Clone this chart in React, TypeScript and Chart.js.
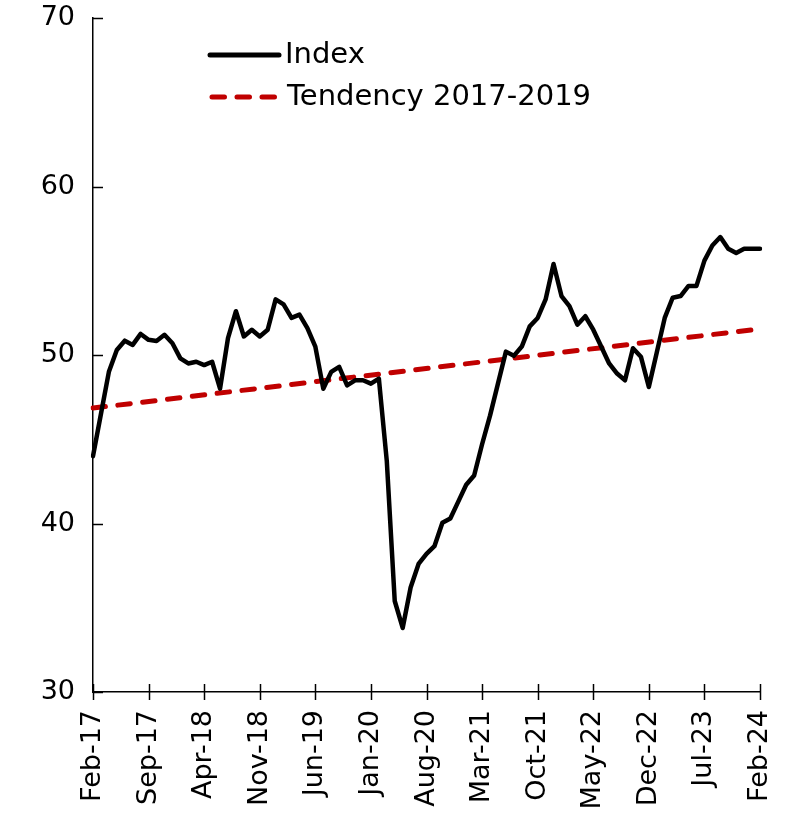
import React, { useEffect, useRef } from "react";
import { Chart, registerables } from "chart.js";
Chart.register(...registerables);

const MONTH_NAMES = ["Jan", "Feb", "Mar", "Apr", "May", "Jun", "Jul", "Aug", "Sep", "Oct", "Nov", "Dec"];
// Monthly categories Feb-17 .. Feb-24
const CATEGORIES: string[] = [];
for (let k = 0; k < 85; k++) {
  const m = (1 + k) % 12;
  const yr = 17 + Math.floor((1 + k) / 12);
  CATEGORIES.push(`${MONTH_NAMES[m]}-${yr}`);
}

const TICK_LABELS = ["Feb-17", "Sep-17", "Apr-18", "Nov-18", "Jun-19", "Jan-20", "Aug-20", "Mar-21", "Oct-21", "May-22", "Dec-22", "Jul-23", "Feb-24"];
const Y_TICKS = [30, 40, 50, 60, 70];

const INDEX_VALUES = [
  44.0, 46.5, 49.0, 50.3, 50.85, 50.6, 51.25, 50.9, 50.83, 51.2,
  50.7, 49.8, 49.5, 49.6, 49.4, 49.6, 48.0, 51.0, 52.6, 51.1,
  51.5, 51.1, 51.5, 53.3, 53.0, 52.2, 52.4, 51.6, 50.5, 48.0,
  49.0, 49.3, 48.2, 48.5, 48.5, 48.3, 48.6, 43.7, 35.4, 33.8,
  36.2, 37.6, 38.2, 38.65, 40.05, 40.3, 41.3, 42.3, 42.85, 44.7,
  46.4, 48.3, 50.2, 49.95, 50.5, 51.7, 52.2, 53.3, 55.4, 53.5,
  52.9, 51.8, 52.3, 51.5, 50.5, 49.5, 48.9, 48.5, 50.4, 49.9,
  48.1, 50.15, 52.2, 53.4, 53.5, 54.1, 54.1, 55.6, 56.5, 57.0,
  56.3, 56.05, 56.3, 56.3, 56.3,
];

// Linear tendency: value at first and last month
const TREND_START = 46.85;
const TREND_END = 51.55;
const TREND_VALUES: (number | null)[] = CATEGORIES.map((_, i) =>
  i === 0 ? TREND_START : i === CATEGORIES.length - 1 ? TREND_END : null
);

const FONT = "'DejaVu Sans', sans-serif";

const axisTicksPlugin = {
  id: "axisTicks",
  afterDraw(chart: any) {
    const { ctx, scales, chartArea } = chart;
    ctx.save();
    ctx.strokeStyle = "#000";
    ctx.lineWidth = 1.5;
    Y_TICKS.forEach((v) => {
      const y = Math.round(scales.y.getPixelForValue(v)) + 0.5;
      ctx.beginPath();
      ctx.moveTo(chartArea.left, y);
      ctx.lineTo(chartArea.left + 10, y);
      ctx.stroke();
    });
    TICK_LABELS.forEach((lab) => {
      const idx = CATEGORIES.indexOf(lab);
      const x = Math.round(scales.x.getPixelForValue(idx)) + 0.5;
      ctx.beginPath();
      ctx.moveTo(x, chartArea.bottom - 8);
      ctx.lineTo(x, chartArea.bottom + 8);
      ctx.stroke();
    });
    ctx.restore();
  },
};

const legendPlugin = {
  id: "innerLegend",
  afterDraw(chart: any) {
    const { ctx } = chart;
    const ds = chart.data.datasets;
    ctx.save();
    ctx.lineCap = "round";
    // Index
    ctx.strokeStyle = ds[0].borderColor;
    ctx.lineWidth = 5;
    ctx.setLineDash([]);
    ctx.beginPath();
    ctx.moveTo(210, 55);
    ctx.lineTo(279, 55);
    ctx.stroke();
    // Tendency
    ctx.strokeStyle = ds[1].borderColor;
    ctx.lineWidth = 5;
    ctx.setLineDash([12.5, 12.5]);
    ctx.beginPath();
    ctx.moveTo(212, 97);
    ctx.lineTo(280, 97);
    ctx.stroke();
    ctx.setLineDash([]);
    ctx.fillStyle = "#000";
    ctx.font = `29px ${FONT}`;
    ctx.textBaseline = "middle";
    ctx.textAlign = "left";
    ctx.fillText(ds[0].label, 285, 55);
    ctx.fillText(ds[1].label, 287, 97);
    ctx.restore();
  },
};

export default function App() {
  const ref = useRef<HTMLCanvasElement | null>(null);
  useEffect(() => {
    if (!ref.current) return;
    const chart = new Chart(ref.current, {
      type: "line",
      data: {
        labels: CATEGORIES,
        datasets: [
          {
            label: "Index",
            data: INDEX_VALUES,
            borderColor: "#000000",
            borderWidth: 4.5,
            pointRadius: 0,
            tension: 0,
            borderJoinStyle: "round",
            borderCapStyle: "round",
            fill: false,
          },
          {
            label: "Tendency 2017-2019",
            data: TREND_VALUES,
            borderColor: "#C00000",
            borderWidth: 5,
            borderDash: [12.5, 12.5],
            borderCapStyle: "round",
            pointRadius: 0,
            spanGaps: true,
            tension: 0,
            fill: false,
          },
        ],
      },
      options: {
        responsive: false,
        animation: false,
        devicePixelRatio: 1,
        layout: { padding: { top: 18, right: 36, left: 0, bottom: 0 } },
        plugins: {
          legend: { display: false },
          tooltip: { enabled: false },
        },
        scales: {
          x: {
            type: "category",
            offset: false,
            grid: { display: false, drawTicks: false },
            border: { display: true, color: "#000", width: 1.5 },
            ticks: {
              autoSkip: false,
              minRotation: 90,
              maxRotation: 90,
              padding: 18,
              color: "#000",
              font: { family: FONT, size: 27 },
              callback: (_v: any, i: number) =>
                TICK_LABELS.includes(CATEGORIES[i]) ? CATEGORIES[i] : null,
            },
            afterFit: (s: any) => {
              s.height = 133;
              s.paddingLeft = 0;
              s.paddingRight = 0;
            },
          },
          y: {
            min: 30,
            max: 70,
            grid: { display: false, drawTicks: false },
            border: { display: true, color: "#000", width: 1.5 },
            ticks: {
              stepSize: 10,
              padding: 18,
              color: "#000",
              font: { family: FONT, size: 27 },
            },
            afterFit: (s: any) => {
              s.width = 93;
              s.paddingTop = 0;
              s.paddingBottom = 0;
            },
          },
        },
      },
      plugins: [axisTicksPlugin, legendPlugin],
    });
    return () => chart.destroy();
  }, []);
  return (
    <div style={{ position: "absolute", left: 0, top: 0, width: 796, height: 825, background: "#fff" }}>
      <canvas ref={ref} width={796} height={825} style={{ display: "block" }} />
    </div>
  );
}
